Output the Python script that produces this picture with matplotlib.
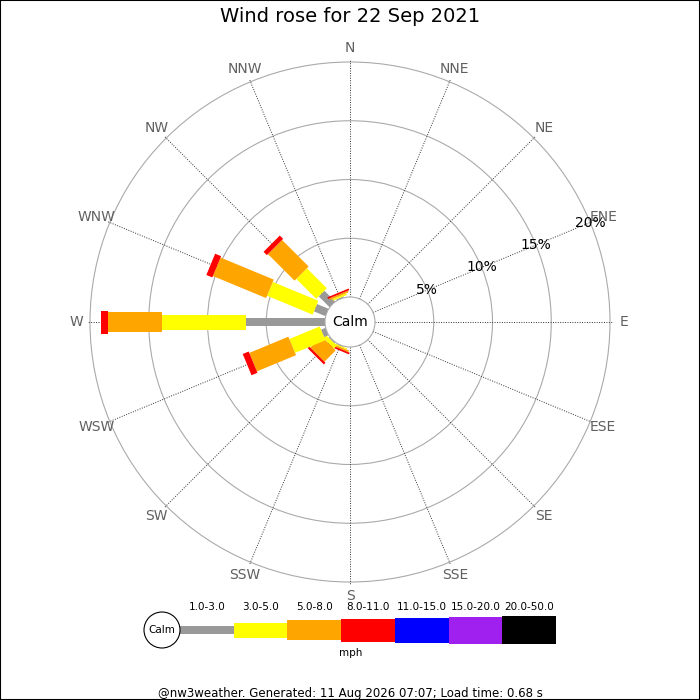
import numpy as np
import matplotlib.pyplot as plt
from matplotlib.patches import Polygon, Circle, Rectangle

# wind rose data: percent of time per direction and speed class
directions = ['N', 'NNE', 'NE', 'ENE', 'E', 'ESE', 'SE', 'SSE',
              'S', 'SSW', 'SW', 'WSW', 'W', 'WNW', 'NW', 'NNW']
speed_classes = ['1.0-3.0', '3.0-5.0', '5.0-8.0', '8.0-11.0',
                 '11.0-15.0', '15.0-20.0', '20.0-50.0']
spd_1_3 = [0, 0, 0, 0, 0, 0, 0, 0, 0, 0.05, 0.1, 0.4, 6.7, 1.05, 1.3, 0.1]
spd_3_5 = [0, 0, 0, 0, 0, 0, 0, 0, 0, 0.1, 0.35, 2.8, 7.2, 4.2, 2.4, 0.15]
spd_5_8 = [0, 0, 0, 0, 0, 0, 0, 0, 0, 0.15, 1.35, 3.6, 4.6, 4.9, 3.2, 0.15]
spd_8_11 = [0, 0, 0, 0, 0, 0, 0, 0, 0, 0.15, 0.2, 0.55, 0.6, 0.55, 0.4, 0.15]
spd_11_15 = [0] * 16
spd_15_20 = [0] * 16
spd_20_50 = [0] * 16
ring_pcts = [5, 10, 15, 20]

colors = ['#999999', '#ffff00', '#ffa500', '#ff0000', '#0000ff', '#a020f0', '#000000']
widths = [8, 15, 20, 23, 25, 27, 28]   # bar thickness (px) per class

CALM_R = 25.0
SCALE = 11.75   # px per percent


def radius(pct):
    return CALM_R + SCALE * pct


fig = plt.figure(figsize=(7, 7), dpi=100)
ax = fig.add_axes([0, 0, 1, 1])
ax.set_xlim(-350, 350)
ax.set_ylim(-378, 322)
ax.set_aspect('equal')
ax.axis('off')

# rings
for p in ring_pcts:
    ax.add_patch(Circle((0, 0), radius(p), fill=False, ec='#aaaaaa', lw=0.8, zorder=1))

# spokes and compass labels
angles = np.arange(16) * 22.5
for ang, name in zip(angles, directions):
    t = np.radians(ang)
    u = np.array([np.sin(t), np.cos(t)])
    a, b = u * CALM_R, u * 263
    ax.plot([a[0], b[0]], [a[1], b[1]], color='#333333', lw=0.7,
            ls=(0, (1, 1.5)), zorder=1)
    ax.text(*(u * 274), name, ha='center', va='center', fontsize=10,
            color='#606060', zorder=5)

# percent labels along ENE spoke
t = np.radians(67.5)
u = np.array([np.sin(t), np.cos(t)])
for p in ring_pcts:
    ax.text(*(u * radius(p)), f'{p}%', ha='center', va='center', fontsize=10,
            color='black', zorder=5)

# bars
series = [spd_1_3, spd_3_5, spd_5_8, spd_8_11, spd_11_15, spd_15_20, spd_20_50]
data = np.array(series)
cum = np.vstack([np.zeros(16), np.cumsum(data, axis=0)])
for i, ang in enumerate(angles):
    t = np.radians(ang)
    u = np.array([np.sin(t), np.cos(t)])
    perp = np.array([np.cos(t), -np.sin(t)])
    for k in range(len(series)):
        if data[k, i] <= 0:
            continue
        r0, r1 = radius(cum[k, i]), radius(cum[k + 1, i])
        h = widths[k] / 2
        pts = [u * r0 + perp * h, u * r1 + perp * h,
               u * r1 - perp * h, u * r0 - perp * h]
        ax.add_patch(Polygon(pts, closed=True, fc=colors[k], ec='none', zorder=2))

# calm circle
ax.add_patch(Circle((0, 0), CALM_R, fc='white', ec='#aaaaaa', lw=0.8, zorder=3))
ax.text(0, 0, 'Calm', ha='center', va='center', fontsize=10, zorder=4)

# title
ax.text(0, 305, 'Wind rose for 22 Sep 2021', ha='center', va='center', fontsize=14)

# legend
leg_y = -308
x0, x1 = -170, 206
seg = (x1 - x0) / len(speed_classes)
ax.add_patch(Circle((-188, leg_y), 18, fc='white', ec='black', lw=0.8, zorder=3))
ax.text(-188, leg_y, 'Calm', ha='center', va='center', fontsize=7.5, zorder=4)
for k, lab in enumerate(speed_classes):
    xs = x0 + k * seg
    ax.add_patch(Rectangle((xs, leg_y - widths[k] / 2), seg, widths[k],
                           fc=colors[k], ec='none', zorder=2))
    ax.text(xs + seg / 2, leg_y + 23, lab, ha='center', va='center', fontsize=7.5)
ax.text(1, leg_y - 23, 'mph', ha='center', va='center', fontsize=7.5)

ax.text(0, -371, '@nw3weather. Generated: 11 Aug 2026 07:07; Load time: 0.68 s',
        ha='center', va='center', fontsize=8.5)

# image border
fig.patches.append(Rectangle((0, 0), 1, 1, transform=fig.transFigure,
                             fill=False, ec='black', lw=1.5))

fig.savefig('out.png', dpi=100)
